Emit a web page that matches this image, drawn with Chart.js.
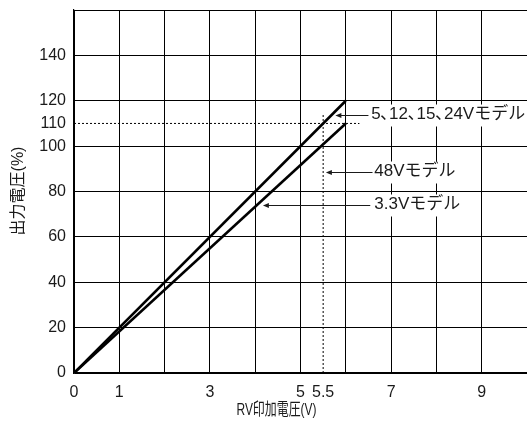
<!DOCTYPE html>
<html lang="ja">
<head>
    <meta charset="UTF-8">
    <title>RV印加電圧と出力電圧</title>
    <script src="https://cdn.jsdelivr.net/npm/chart.js"></script>
    <style>
        body {
            margin: 0;
            background: #fff;
        }
        #wrap {
            width: 527px;
            height: 421px;
        }
    </style>
</head>
<body>

<div id="wrap">
    <canvas id="rvChart" width="527" height="421"></canvas>
</div>

<script>
    // axis ticks
    const xTickValues = [0, 1, 2, 3, 4, 5, 5.5, 6, 7, 8, 9, 10];
    const xTickLabels = [0, 1, 3, 5, 5.5, 7, 9];
    const yTickValues = [0, 20, 40, 60, 80, 100, 110, 120, 140, 160];
    const yTickLabels = [0, 20, 40, 60, 80, 100, 110, 120, 140];

    // characteristic lines (RV voltage -> output %)
    const rvVoltage = [0, 6];
    const output5to24 = [0, 120];
    const output3v3 = [0, 110];

    // dotted guide lines
    const guideVX = [5.5, 5.5];
    const guideVY = [0, 114];
    const guideHX = [0, 6.3];
    const guideHY = [110, 110];

    const calloutTexts = ['5､12､15､24Vモデル', '48Vモデル', '3.3Vモデル'];

    const FONT = '"Liberation Sans", Arial, "Noto Sans CJK JP", sans-serif';
    const INK = '#1a1a1a';

    function toPoints(xs, ys) {
        return xs.map((x, i) => ({ x: x, y: ys[i] }));
    }

    // no extra room for tick labels at the ends of the axes
    function noPad(axis) {
        axis.paddingLeft = 0;
        axis.paddingRight = 0;
        axis.paddingTop = 0;
        axis.paddingBottom = 0;
    }

    // arrows + labels, axis titles
    const calloutPlugin = {
        id: 'callouts',
        afterDraw(chart) {
            const ctx = chart.ctx;
            const xs = chart.scales.x;
            const ys = chart.scales.y;
            // tip (data), tail x / text x (data)
            const spots = [
                { tipX: 5.77, tipY: 113.7, tailX: 6.5, textX: 6.56 },
                { tipX: 5.56, tipY: 88.5, tailX: 6.59, textX: 6.63 },
                { tipX: 4.17, tipY: 74, tailX: 6.54, textX: 6.63 }
            ];
            ctx.save();
            ctx.font = '17px ' + FONT;
            spots.forEach((s, i) => {
                const tx = xs.getPixelForValue(s.tipX);
                const ty = Math.round(ys.getPixelForValue(s.tipY)) + 0.5;
                const ex = xs.getPixelForValue(s.tailX);
                const lx = xs.getPixelForValue(s.textX);
                const w = ctx.measureText(calloutTexts[i]).width;

                ctx.fillStyle = '#fff';
                ctx.fillRect(lx - 1, ty - 11, w + 3, 22);

                ctx.strokeStyle = INK;
                ctx.lineWidth = 1;
                ctx.beginPath();
                ctx.moveTo(ex, ty);
                ctx.lineTo(tx + 4, ty);
                ctx.stroke();
                ctx.fillStyle = INK;
                ctx.beginPath();
                ctx.moveTo(tx, ty);
                ctx.lineTo(tx + 6, ty - 2.5);
                ctx.lineTo(tx + 6, ty + 2.5);
                ctx.closePath();
                ctx.fill();

                ctx.textBaseline = 'middle';
                ctx.textAlign = 'left';
                ctx.fillText(calloutTexts[i], lx, ty - 1);
            });

            // axis titles
            ctx.fillStyle = INK;
            ctx.font = '17px ' + FONT;
            ctx.textAlign = 'center';
            ctx.textBaseline = 'middle';
            ctx.fillText('RV印加電圧(V)', 276.5, 410, 80);

            ctx.font = '16px ' + FONT;
            ctx.translate(19, 191);
            ctx.rotate(-Math.PI / 2);
            ctx.fillText('出力電圧(%)', 0, 0);
            ctx.restore();
        }
    };

    const lineStyle = {
        showLine: true,
        borderColor: '#000',
        borderWidth: 2.6,
        pointRadius: 0,
        fill: false
    };
    const dotStyle = {
        showLine: true,
        borderColor: '#000',
        borderWidth: 1,
        borderDash: [2, 2],
        pointRadius: 0,
        fill: false
    };

    new Chart(document.getElementById('rvChart'), {
        type: 'scatter',
        data: {
            datasets: [
                Object.assign({ label: '5,12,15,24V', data: toPoints(rvVoltage, output5to24) }, lineStyle),
                Object.assign({ label: '3.3V', data: toPoints(rvVoltage, output3v3) }, lineStyle),
                Object.assign({ label: '5.5V', data: toPoints(guideVX, guideVY) }, dotStyle),
                Object.assign({ label: '110%', data: toPoints(guideHX, guideHY) }, dotStyle)
            ]
        },
        options: {
            responsive: false,
            animation: false,
            layout: { padding: { top: 10, right: 0, left: 0, bottom: 0 } },
            plugins: {
                legend: { display: false },
                tooltip: { enabled: false }
            },
            scales: {
                x: {
                    type: 'linear',
                    min: 0,
                    max: 10,
                    afterBuildTicks: (axis) => { axis.ticks = xTickValues.map(v => ({ value: v })); },
                    afterFit: (axis) => { axis.height = 48; noPad(axis); },
                    grid: {
                        color: (c) => c.tick && c.tick.value === 5.5 ? 'rgba(0,0,0,0)' : '#000',
                        lineWidth: 1,
                        drawTicks: false
                    },
                    border: { color: '#000', width: 1.2 },
                    ticks: {
                        autoSkip: false,
                        maxRotation: 0,
                        padding: 10,
                        color: INK,
                        font: { family: FONT, size: 16 },
                        callback: (v) => xTickLabels.includes(v) ? String(v) : ''
                    }
                },
                y: {
                    type: 'linear',
                    min: 0,
                    max: 160,
                    afterBuildTicks: (axis) => { axis.ticks = yTickValues.map(v => ({ value: v })); },
                    afterFit: (axis) => { axis.width = 74; noPad(axis); },
                    grid: {
                        color: (c) => c.tick && c.tick.value === 110 ? 'rgba(0,0,0,0)' : '#000',
                        lineWidth: 1,
                        drawTicks: false
                    },
                    border: { color: '#000', width: 1.2 },
                    ticks: {
                        autoSkip: false,
                        padding: 8,
                        color: INK,
                        font: { family: FONT, size: 16 },
                        callback: (v) => yTickLabels.includes(v) ? String(v) : ''
                    }
                }
            }
        },
        plugins: [calloutPlugin]
    });
</script>

</body>
</html>
